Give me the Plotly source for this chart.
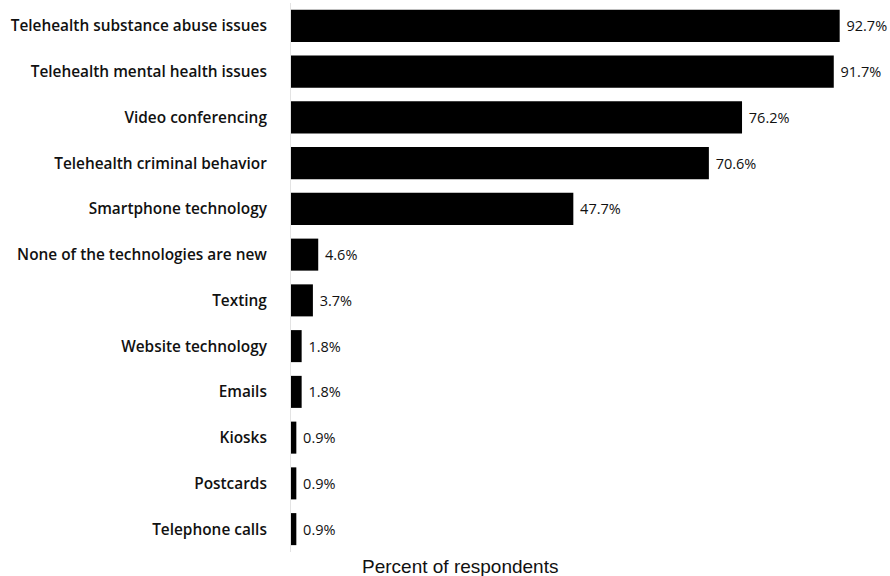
import plotly.graph_objects as go

# Survey results: technologies considered new, share of respondents
categories = [
    "Telehealth substance abuse issues",
    "Telehealth mental health issues",
    "Video conferencing",
    "Telehealth criminal behavior",
    "Smartphone technology",
    "None of the technologies are new",
    "Texting",
    "Website technology",
    "Emails",
    "Kiosks",
    "Postcards",
    "Telephone calls",
]
percents = [92.7, 91.7, 76.2, 70.6, 47.7, 4.6, 3.7, 1.8, 1.8, 0.9, 0.9, 0.9]
value_labels = [f"\u00a0{v}%" for v in percents]

fig = go.Figure(
    go.Bar(
        x=percents,
        y=categories,
        orientation="h",
        marker=dict(color="#000000", line=dict(width=0)),
        width=0.7,
        text=value_labels,
        textposition="outside",
        textfont=dict(family="Open Sans", size=14.5, color="#111111", weight=500),
        cliponaxis=False,
    )
)

fig.add_annotation(
    text="Percent of respondents",
    xref="paper",
    yref="paper",
    x=0.282,
    y=0,
    xanchor="center",
    yanchor="middle",
    yshift=-14,
    showarrow=False,
    font=dict(family="Liberation Sans", size=19, color="#111111"),
)

fig.update_layout(
    width=890,
    height=576,
    margin=dict(l=291, r=0, t=3, b=24),
    paper_bgcolor="white",
    plot_bgcolor="white",
    showlegend=False,
    font=dict(family="Open Sans", color="#111111"),
    xaxis=dict(
        range=[0, 101.2],
        showgrid=False,
        zeroline=False,
        showticklabels=False,
        showline=False,
    ),
    yaxis=dict(
        autorange="reversed",
        showgrid=False,
        zeroline=False,
        showline=True,
        linecolor="#e3e3e3",
        linewidth=1,
        ticks="",
        ticklabelstandoff=20,
        tickfont=dict(family="Open Sans", size=15.4, color="#111111", weight=600),
    ),
)

fig.write_html("out.html")
